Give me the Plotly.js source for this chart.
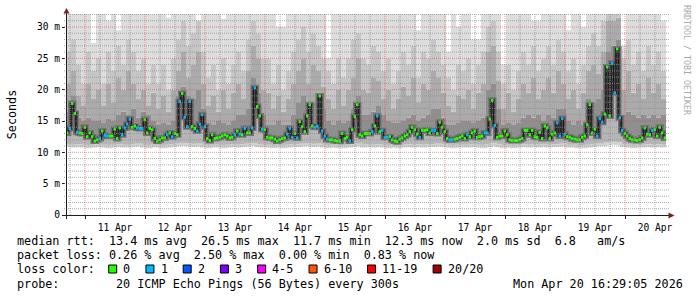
<!DOCTYPE html>
<html><head><meta charset="utf-8">
<script src="https://cdn.plot.ly/plotly-3.0.1.min.js"></script>
<style>html,body{margin:0;padding:0;background:#fff;}#chart{width:697px;height:297px;}</style>
</head><body><div id="chart"></div>
<script>
// ---------- DATA ----------
const rangeStart = '2026-04-10 16:24:00';
const slotHours = 1;      // median samples
const binHours = 2;       // smoke samples

const rttMedian = [
13.1,13.8,17.8,16.2,13.2,13.1,13.0,14.0,12.5,13.1,
12.5,11.8,12.0,12.2,13.4,12.7,12.6,12.6,12.6,13.7,
12.2,13.9,12.8,13.9,14.5,15.3,14.0,14.2,13.9,13.8,
13.8,15.2,13.1,13.8,13.6,12.2,11.8,12.0,12.3,12.3,
12.8,13.1,12.5,13.0,12.8,18.1,19.4,15.6,14.1,18.1,
14.1,13.8,13.4,14.5,16.0,14.1,12.2,11.9,12.8,12.2,
12.3,12.4,12.6,12.8,12.6,12.3,12.4,12.8,13.4,12.9,
12.8,13.8,13.1,13.1,13.9,20.3,17.3,15.8,13.7,13.6,
12.4,12.3,12.3,12.1,11.8,12.0,12.2,12.3,12.9,13.8,
12.4,13.0,12.3,14.9,14.1,13.3,15.8,17.6,14.2,14.0,
14.2,19.0,13.4,12.6,12.1,12.0,12.0,11.9,11.8,11.8,
13.0,12.2,12.4,11.8,13.6,15.7,17.6,12.8,12.6,13.0,
13.0,13.0,13.3,14.2,15.8,13.3,13.5,12.4,12.4,12.5,
12.0,11.8,11.7,12.1,12.3,12.6,12.8,13.3,14.0,13.6,
12.9,12.4,13.5,13.5,13.6,13.1,13.5,13.5,13.0,14.8,
14.0,13.3,12.2,12.0,12.0,12.1,12.2,12.4,12.6,12.2,
12.8,12.5,13.1,13.4,12.4,12.5,12.6,13.1,13.1,15.3,
18.3,14.3,12.4,12.6,12.6,13.4,12.8,12.0,11.9,11.9,
11.9,12.0,12.2,13.5,13.5,12.8,13.5,12.5,12.4,13.2,
12.2,14.2,13.9,12.2,12.9,13.1,14.7,12.6,15.4,12.9,
12.5,12.4,12.2,12.1,12.0,12.0,12.4,12.6,14.4,17.6,
13.1,13.7,12.6,15.4,14.8,16.1,23.6,15.8,24.2,19.5,
26.5,15.5,13.5,13.0,12.6,12.2,12.0,12.0,11.9,12.0,
12.3,13.9,12.9,12.8,13.5,13.6,12.6,14.0,13.1,12.3];

const lossCount = [
0,1,0,0,1,0,0,0,0,0, 0,0,0,1,0,1,1,0,0,0, 0,0,1,1,1,1,0,0,1,1, 1,0,0,0,0,0,0,0,0,0,
1,0,1,0,0,1,0,1,1,1, 0,0,1,1,1,1,0,0,0,0, 0,0,0,0,0,0,0,1,0,1, 0,1,0,0,1,1,0,0,1,0,
0,0,0,0,0,0,0,0,1,1, 1,0,1,0,0,0,0,0,0,1, 1,0,1,1,1,0,0,0,0,0, 0,0,0,1,0,0,0,0,0,0,
0,0,1,0,1,0,1,1,1,0, 0,0,0,0,0,0,0,0,0,0, 0,1,0,0,0,0,1,1,0,0, 0,0,0,1,1,0,0,0,0,0,
1,0,0,0,0,0,0,1,1,0, 0,1,0,0,0,0,0,0,0,0, 0,0,0,0,0,0,0,0,0,0, 0,0,0,0,0,0,1,1,1,1,
0,0,0,0,0,0,0,0,0,0, 0,0,1,1,1,0,0,0,1,1, 0,1,1,0,0,0,0,0,0,0, 0,0,0,0,1,0,0,0,0,0];

// smoke: lowest ping, inner/mid/outer band tops, highest ping (ms)
const smokeMin = [
11.1,11.0,11.1,11.0,10.9,11.0,11.1,11.0,10.9,11.0, 11.1,11.0,11.0,11.1,11.2,11.0,10.9,11.0,11.0,10.9,
11.0,11.1,11.2,11.3,11.2,11.1,11.2,11.0,10.9,11.0, 11.0,10.9,11.0,11.1,11.0,11.1,11.2,11.3,11.1,11.0,
11.0,10.9,11.0,10.9,11.0,11.1,11.1,11.2,11.2,11.1, 11.2,11.0,10.9,11.0,10.9,10.9,11.0,11.1,11.2,11.0,
11.1,11.0,11.1,11.0,10.9,11.0,10.9,11.0,11.1,11.0, 11.1,11.0,11.1,11.1,11.2,11.1,11.0,10.9,11.0,11.0,
11.0,11.1,11.0,10.9,11.1,11.3,11.1,10.9,11.0,10.9, 11.0,11.1,11.0,11.1,11.0,11.1,11.0,11.1,11.1,11.2,
11.0,11.0,10.9,10.9,11.0,11.1,11.2,11.2,11.4,11.5, 11.4,11.1,11.0,10.9,11.0,11.0,11.1,11.0,11.1,11.0];
const smokeInner = [
16.5,19, 15.5,15,15.5,15, 15,14.8,15.3,15, 16,16.5,16,17, 15.5,16.5,16,15, 14.5,14.8,14.5,15, 19,20.5,19,18.5,20,17, 14.8,14.5,15,14.8,14.5,15, 16,16,17,22,19.5,16,
14.5,14.5,15,14.5,14.5,16, 18,19,17,18,19.5,17, 15,14.5,15,14.8,15,17, 19,16, 16,16.5,17.5,16,15,14.8, 14.8,15, 15.5,16,15,15.5, 16,17,17,15.5, 14.5,14.5,14.8,15,
15,14.8,15,15.5, 20,21,17, 14.5,14.8,14.5,14.8, 15.5,16,15.5,16,15,16,15.5, 17,17, 15,14.5,15,14.5,18.5, 18,18.5,20, 26,27,28, 16,16.5,16, 15.5,16,15.5,16,15.5,16];
const smokeMid = [
21,23, 19,17.5,21,18.5, 20,17.5,21,18, 22,20,23,21, 18.5,20,17.5,19.5, 17,19,16.5,20, 23,26,22,24,26,21, 17.5,19,16.5,20,17,19.5, 21,18.5,23,27,25,20,
19.5,17,19,16.5,18.5,21, 23,25,21,24,23,20.5, 18.5,17,20,17.5,20,22, 25,20, 19.5,22,21.5,18.5,20,17, 18.5,20.5, 19,22,18,21, 20,23,22,19.5, 17.5,16.5,19,18.5,
20,17,19.5,21, 26,27,21.5, 17,19.5,16.5,18.5, 21,19.5,22,18.5,20,22,19.5, 23,21, 18.5,20,17,19.5,23, 24,22.5,26, 31,31,31.5, 20,23,19.5, 21,18.5,22,19.5,21,18.5];
const smokeOuter = [
26,28, 24,21,26,23, 25,21,26,23, 27,24,28,26, 23,25,21,24, 21,24,20,25, 28,31,27,29,31,26, 22,24,20,25,21,24, 26,23,28,31,29,25,
25,21,24,20,23,26, 28,30,26,29,27,25, 23,21,25,22,25,28, 29,25, 24,27,26,23,25,21, 23,26, 24,27,22,26, 25,28,26,24, 22,20,24,23,
25,21,24,26, 30,31,26, 21,24,20,23, 26,24,27,23,25,27,24, 28,26, 23,25,21,24,27, 29,27,31, 33,33,33, 25,28,24, 26,23,27,24,26,23];
const smokeMax = [
33,33, 33,33,32,27.5, 33,33,31,33, 29.5,33,33,33, 33,33,33,32, 33,33,31.5,33, 33,33,33,33,31,33, 33,33,33,31.3,33,33, 33,33,33,33,33,33,
33,33,30,30,33,33, 33,33,33,33,33,33, 25,33,33,33,33,33, 33,33, 33,33,33,33,33,33, 33,33, 33,33,29.5,33, 33,33,33,33, 26,33,30,33,
33,28,28,33, 33,33,33, 24,33,33,33, 33,33,31,31,33,33,33, 33,33, 29.5,33,33,30,33, 33,33,33, 33,33,33, 27,33,33, 33,33,33,33,33,31];

const yTickVals = [0, 5, 10, 15, 20, 25, 30];
const yTickText = ['0', '5 m', '10 m', '15 m', '20 m', '25 m', '30 m'];
const yMax = 32.074;

const lossLabels = ['0', '1', '2', '3', '4-5', '6-10', '11-19', '20/20'];
const lossColors = ['#26ff00', '#00b8ff', '#0059ff', '#7e00ff', '#ff00ff', '#ff5500', '#ff0000', '#a10000'];
const lossUpper = [0, 1, 2, 3, 5, 10, 19, 20];

const statsRtt = 'median rtt:  13.4 ms avg  26.5 ms max  11.7 ms min  12.3 ms now  2.0 ms sd  6.8   am/s';
const statsLoss = 'packet loss: 0.26 % avg  2.50 % max  0.00 % min  0.83 % now';
const lossTitle = 'loss color:';
const probeText = 'probe:        20 ICMP Echo Pings (56 Bytes) every 300s';
const stampText = 'Mon Apr 20 16:29:05 2026';
const yTitle = 'Seconds';
const watermark = 'RRDTOOL / TOBI OETIKER';

// ---------- BUILD ----------
const MONO = 'DejaVu Sans Mono';
const H = 3600e3;
const t0 = Date.parse(rangeStart.replace(' ', 'T') + 'Z');
const fmt = ms => new Date(ms).toISOString().slice(0, 19).replace('T', ' ');
const tEnd = t0 + rttMedian.length * slotHours * H;

const binX = smokeMin.map((_, i) => fmt(t0 + i * binHours * H)).concat([fmt(tEnd)]);
const ext = a => a.concat([a[a.length - 1]]);
const slotX = rttMedian.map((_, i) => fmt(t0 + i * slotHours * H)).concat([fmt(tEnd)]);

const traces = [];
const band = (x, y, fillcolor) => ({
  type: 'scatter', mode: 'lines', x: x, y: y, line: {width: 0, shape: 'hv'},
  fill: fillcolor ? 'tonexty' : 'none', fillcolor: fillcolor || 'rgba(0,0,0,0)',
  hoverinfo: 'skip', showlegend: false
});
traces.push(band(binX, ext(smokeMin), null));
traces.push(band(slotX, ext(rttMedian), '#b6b6b6'));
traces.push(band(binX, ext(smokeInner), '#8f8f8f'));
traces.push(band(binX, ext(smokeMid), '#ababab'));
traces.push(band(binX, ext(smokeOuter), '#c6c6c6'));
traces.push(band(binX, ext(smokeMax), '#dddddd'));
// soft lower edge of the smoke
traces.push({type: 'scatter', mode: 'lines', x: binX, y: ext(smokeMin),
  line: {width: 3, shape: 'hv', color: '#d2d2d2'}, hoverinfo: 'skip', showlegend: false});
// dark core around the median
[[6, '#747474'], [3.5, '#4e4e4e'], [1.5, '#1e1e1e']].forEach(([w, c]) => {
  traces.push({type: 'scatter', mode: 'lines', x: slotX, y: ext(rttMedian),
    line: {width: w, shape: 'hv', color: c}, hoverinfo: 'skip', showlegend: false});
});
// median segments coloured by loss
const bucketOf = n => lossUpper.findIndex(u => n <= u);
lossLabels.forEach((lab, b) => {
  const xs = [], ys = [];
  rttMedian.forEach((v, i) => {
    if (bucketOf(lossCount[i]) === b) {
      xs.push(slotX[i], slotX[i + 1], null);
      ys.push(v, v, null);
    }
  });
  if (xs.length) traces.push({type: 'scatter', mode: 'lines', x: xs, y: ys,
    line: {width: 3, color: lossColors[b]}, connectgaps: false, hoverinfo: 'skip', showlegend: false});
});

// ---------- GRID & DECORATION ----------
const PX = px => (px - 66) / 600;
const PY = py => (215 - py) / 201;
const shapes = [];
const minorCol = 'rgba(143,143,143,0.75)', majorCol = 'rgba(222,79,79,0.6)';
const vMinor = [], vMajor = [];
for (let t = Date.UTC(2026, 3, 10, 18); t < tEnd; t += 6 * H) {
  (new Date(t).getUTCHours() === 0 ? vMajor : vMinor).push(t);
}
const hMinor = [], hMajor = [];
for (let v = 1; v < yMax; v++) (v % 5 === 0 ? hMajor : hMinor).push(v);
const vline = (t, c) => ({type: 'line', layer: 'above', xref: 'x', yref: 'paper', x0: fmt(t), x1: fmt(t), y0: 0, y1: 1,
  line: {color: c, width: 1, dash: '1px,1px'}});
const hline = (v, c) => ({type: 'line', layer: 'above', xref: 'paper', yref: 'y', x0: PX(64), x1: PX(669), y0: v, y1: v,
  line: {color: c, width: 1, dash: '1px,1px'}});
vMinor.forEach(t => shapes.push(vline(t, minorCol)));
hMinor.forEach(v => shapes.push(hline(v, minorCol)));
vMajor.forEach(t => shapes.push(vline(t, majorCol)));
hMajor.forEach(v => shapes.push(hline(v, majorCol)));
// axes + arrows
shapes.push({type: 'line', layer: 'above', xref: 'paper', yref: 'paper', x0: PX(62), x1: PX(670), y0: PY(215.5), y1: PY(215.5), line: {color: '#1f1f1f', width: 1}});
shapes.push({type: 'line', layer: 'above', xref: 'paper', yref: 'paper', x0: PX(66.5), x1: PX(66.5), y0: PY(219), y1: PY(11), line: {color: '#1f1f1f', width: 1}});
shapes.push({type: 'path', layer: 'above', xref: 'paper', yref: 'paper',
  path: `M ${PX(63.5)} ${PY(13.5)} L ${PX(66.5)} ${PY(8)} L ${PX(69.5)} ${PY(13.5)} Z`, fillcolor: '#801f1f', line: {width: 0}});
shapes.push({type: 'path', layer: 'above', xref: 'paper', yref: 'paper',
  path: `M ${PX(668.5)} ${PY(212.5)} L ${PX(674.5)} ${PY(215.5)} L ${PX(668.5)} ${PY(218.5)} Z`, fillcolor: '#801f1f', line: {width: 0}});

const nb = s => s.replace(/ /g, '\u00a0');
const FS = 11.75, CW = 7.08;
const txt = (text, px, py, extra) => Object.assign({
  xref: 'paper', yref: 'paper', x: PX(px), y: PY(py), xanchor: 'left', yanchor: 'middle',
  text: nb(text), showarrow: false, borderpad: 0, font: {family: MONO, size: FS, color: '#000'}
}, extra || {});
const annotations = [
  txt(statsRtt, 15.6, 241),
  txt(statsLoss, 15.6, 255),
  txt(lossTitle, 15.6, 269),
  txt(probeText, 15.6, 283.5),
  txt(stampText, 512, 283.5),
  {xref: 'paper', yref: 'paper', x: PX(687), y: PY(60), xanchor: 'center', yanchor: 'middle',
   text: nb(watermark), textangle: 90, showarrow: false, borderpad: 0,
   font: {family: MONO, size: 8.3, color: '#aaaaaa'}}
];
let cur = 108.7;
lossLabels.forEach((lab, i) => {
  shapes.push({type: 'rect', layer: 'above', xref: 'paper', yref: 'paper',
    x0: PX(cur), x1: PX(cur + 8), y0: PY(265), y1: PY(273), fillcolor: lossColors[i], line: {color: '#000', width: 1}});
  annotations.push(txt(lab, cur + 13.6, 269));
  cur += 16 + (lab.length + 2) * CW;
});

const layout = {
  width: 697, height: 297, margin: {l: 66, r: 31, t: 14, b: 82, pad: 0},
  paper_bgcolor: '#ffffff', plot_bgcolor: '#ffffff', showlegend: false,
  font: {family: MONO, size: 9.6, color: '#000'},
  xaxis: {type: 'date', range: [fmt(t0), fmt(tEnd)], tick0: '2026-04-11 00:00:00', dtick: 86400000,
    tickformat: '%d %b', ticklabelmode: 'period', showgrid: false, zeroline: false, showline: false,
    ticks: 'outside', ticklen: 3, tickcolor: '#1f1f1f', tickfont: {family: MONO, size: 9.6, color: '#000'},
    fixedrange: true},
  yaxis: {range: [0, yMax], tickmode: 'array', tickvals: yTickVals, ticktext: yTickText,
    showgrid: false, zeroline: false, showline: false, ticks: 'outside', ticklen: 3, tickcolor: '#1f1f1f',
    tickfont: {family: MONO, size: 9.6, color: '#000'},
    title: {text: yTitle, font: {family: MONO, size: FS, color: '#000'}, standoff: 17}, fixedrange: true},
  shapes: shapes, annotations: annotations
};
Plotly.newPlot('chart', traces, layout, {staticPlot: true, displayModeBar: false});
</script>
</body></html>
